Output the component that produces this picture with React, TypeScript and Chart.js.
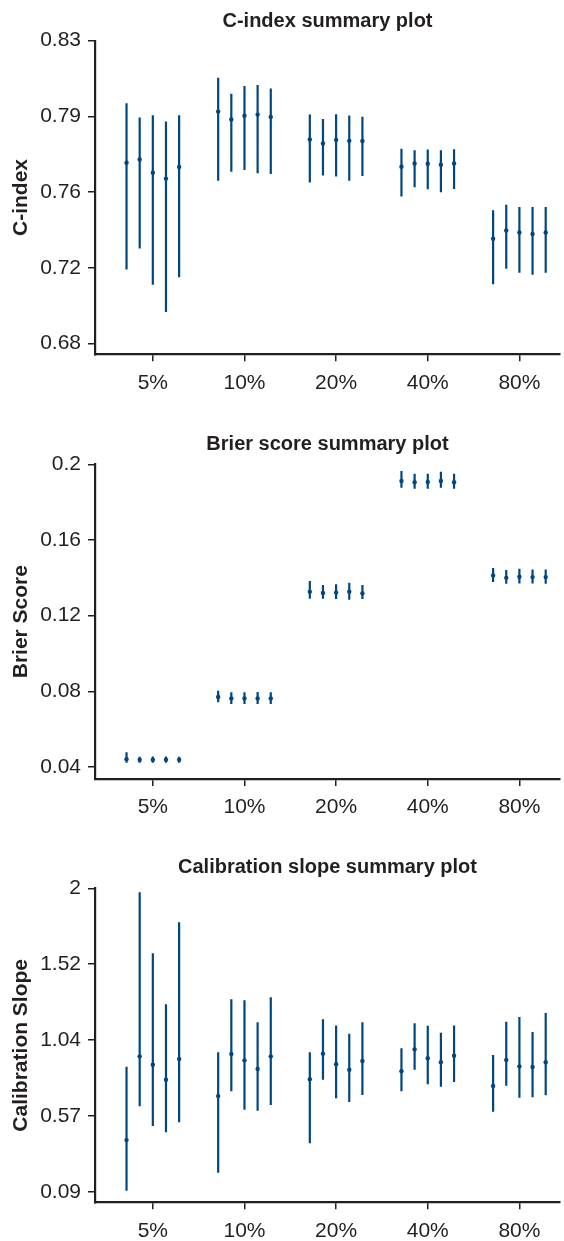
import React, { useEffect, useRef } from 'react';
import { Chart, registerables } from 'chart.js';

Chart.register(...registerables);

// ---------- categories & layout constants ----------
const categories = ['5%', '10%', '20%', '40%', '80%'];
const subOffsets = [-0.287, -0.1435, 0, 0.1435, 0.287];
const X_MIN = 0.369;
const X_MAX = 5.443;

// ---------- C-index (5 groups x 5 models) ----------
const cIndexEst = [
  0.7696, 0.7712, 0.7646, 0.7617, 0.7675,
  0.7949, 0.791, 0.7928, 0.7934, 0.7922,
  0.7811, 0.7791, 0.7809, 0.7804, 0.7803,
  0.7676, 0.7692, 0.7691, 0.7686, 0.7692,
  0.7319, 0.736, 0.735, 0.7343, 0.735,
];
const cIndexLow = [
  0.7167, 0.7271, 0.7092, 0.6956, 0.7128,
  0.7607, 0.7651, 0.766, 0.7643, 0.764,
  0.7598, 0.7633, 0.7627, 0.7607, 0.763,
  0.7529, 0.7574, 0.7564, 0.7549, 0.7566,
  0.7094, 0.7171, 0.7151, 0.7141, 0.7151,
];
const cIndexHigh = [
  0.799, 0.792, 0.7931, 0.79, 0.7931,
  0.8116, 0.8037, 0.8076, 0.808, 0.8063,
  0.7934, 0.7912, 0.7936, 0.7929, 0.7923,
  0.7765, 0.7758, 0.7761, 0.7758, 0.7763,
  0.746, 0.7488, 0.7477, 0.7477, 0.7477,
];
const cTickValues = [0.68, 0.7175, 0.755, 0.7925, 0.83];
const cTickLabels = ['0.68', '0.72', '0.76', '0.79', '0.83'];

// ---------- Brier score ----------
const brierEst = [
  0.0442, 0.0439, 0.0439, 0.0439, 0.0439,
  0.077, 0.0763, 0.0763, 0.0763, 0.0763,
  0.1327, 0.132, 0.1322, 0.1327, 0.1318,
  0.1912, 0.1905, 0.1907, 0.1912, 0.1905,
  0.1413, 0.14, 0.1406, 0.1404, 0.1404,
];
const brierLow = [
  0.0423, 0.0423, 0.0423, 0.0423, 0.0423,
  0.0742, 0.0733, 0.0733, 0.0733, 0.0733,
  0.129, 0.129, 0.1288, 0.1284, 0.1288,
  0.1876, 0.1871, 0.1871, 0.1876, 0.1871,
  0.1378, 0.1369, 0.137, 0.137, 0.1369,
];
const brierHigh = [
  0.0478, 0.0454, 0.0456, 0.0456, 0.0454,
  0.0803, 0.0795, 0.0795, 0.0797, 0.0795,
  0.1383, 0.1362, 0.1366, 0.1374, 0.1362,
  0.1964, 0.195, 0.195, 0.1961, 0.195,
  0.1452, 0.1441, 0.1448, 0.1444, 0.1444,
];
const brierTickValues = [0.04, 0.08, 0.12, 0.16, 0.2];
const brierTickLabels = ['0.04', '0.08', '0.12', '0.16', '0.2'];

// ---------- Calibration slope ----------
const calEst = [
  0.415, 0.942, 0.889, 0.795, 0.925,
  0.692, 0.957, 0.917, 0.862, 0.942,
  0.798, 0.959, 0.892, 0.858, 0.913,
  0.848, 0.986, 0.93, 0.905, 0.946,
  0.755, 0.919, 0.879, 0.875, 0.905,
];
const calLow = [
  0.096, 0.628, 0.504, 0.464, 0.527,
  0.21, 0.722, 0.606, 0.6, 0.636,
  0.395, 0.795, 0.678, 0.655, 0.699,
  0.722, 0.858, 0.766, 0.751, 0.781,
  0.594, 0.757, 0.682, 0.684, 0.697,
];
const calHigh = [
  0.877, 1.975, 1.591, 1.27, 1.786,
  0.968, 1.301, 1.295, 1.156, 1.314,
  0.968, 1.175, 1.137, 1.085, 1.156,
  0.993, 1.15, 1.135, 1.091, 1.137,
  0.951, 1.16, 1.19, 1.095, 1.215,
];
const calTickValues = [0.09, 0.5675, 1.045, 1.5225, 2.0];
const calTickLabels = ['0.09', '0.57', '1.04', '1.52', '2'];

// ---------- styles ----------
const INK = '#231f20';
const BLUE = '#00467f';
const FONT = "'Liberation Sans', Arial, Helvetica, sans-serif";

type PanelSpec = {
  title: string;
  yLabel: string;
  est: number[];
  lo: number[];
  hi: number[];
  tickValues: number[];
  tickLabels: string[];
  yMin: number;
  yMax: number;
  top: number;
  height: number;
  titlePadTop: number;
  titlePadBottom: number;
  xAxisHeight: number;
};

const panels: PanelSpec[] = [
  {
    title: 'C-index summary plot', yLabel: 'C-index',
    est: cIndexEst, lo: cIndexLow, hi: cIndexHigh,
    tickValues: cTickValues, tickLabels: cTickLabels,
    yMin: 0.6747, yMax: 0.83,
    top: 0, height: 410, titlePadTop: 9, titlePadBottom: 7.7, xAxisHeight: 410 - 354.3,
  },
  {
    title: 'Brier score summary plot', yLabel: 'Brier Score',
    est: brierEst, lo: brierLow, hi: brierHigh,
    tickValues: brierTickValues, tickLabels: brierTickLabels,
    yMin: 0.0337, yMax: 0.2,
    top: 420, height: 420, titlePadTop: 12, titlePadBottom: 8.3, xAxisHeight: 840 - 779,
  },
  {
    title: 'Calibration slope summary plot', yLabel: 'Calibration Slope',
    est: calEst, lo: calLow, hi: calHigh,
    tickValues: calTickValues, tickLabels: calTickLabels,
    yMin: 0.0233, yMax: 2.0,
    top: 840, height: 401, titlePadTop: 15.5, titlePadBottom: 8.8, xAxisHeight: 1241 - 1202.3,
  },
];

function Panel({ spec }: { spec: PanelSpec }) {
  const ref = useRef<HTMLCanvasElement>(null);
  useEffect(() => {
    if (!ref.current) return;
    const whisker: { x: number; y: number | null }[] = [];
    const points: { x: number; y: number }[] = [];
    spec.est.forEach((e, i) => {
      const g = Math.floor(i / 5);
      const s = i % 5;
      const x = g + 1 + subOffsets[s];
      whisker.push({ x, y: spec.lo[i] }, { x, y: spec.hi[i] }, { x, y: null });
      points.push({ x, y: e });
    });
    const chart = new Chart(ref.current, {
      type: 'line',
      data: {
        datasets: [
          {
            data: whisker as any,
            borderColor: BLUE,
            borderWidth: 2.2,
            pointRadius: 0,
            spanGaps: false,
            fill: false,
            tension: 0,
            borderCapStyle: 'butt',
          },
          {
            data: points as any,
            showLine: false,
            pointRadius: 2.2,
            pointBackgroundColor: BLUE,
            pointBorderColor: BLUE,
            pointBorderWidth: 0,
          },
        ],
      },
      options: {
        animation: false,
        responsive: false,
        events: [],
        layout: { padding: 0 },
        plugins: {
          legend: { display: false },
          tooltip: { enabled: false },
          title: {
            display: true,
            text: spec.title,
            fullSize: false,
            color: INK,
            font: { family: FONT, size: 20, weight: 'bold' },
            padding: { top: spec.titlePadTop, bottom: spec.titlePadBottom },
          },
        },
        scales: {
          x: {
            type: 'linear',
            min: X_MIN,
            max: X_MAX,
            bounds: 'data',
            afterBuildTicks: (s: any) => {
              s.ticks = categories.map((_, i) => ({ value: i + 1 }));
            },
            afterFit: (s: any) => {
              s.height = spec.xAxisHeight;
            },
            ticks: {
              callback: (v: any) => categories[Math.round(Number(v)) - 1] ?? '',
              color: INK,
              font: { family: FONT, size: 21 },
              padding: 9,
              maxRotation: 0,
              autoSkip: false,
            },
            grid: { drawOnChartArea: false, drawTicks: true, tickLength: 7, color: INK, lineWidth: 1.5 },
            border: { display: true, color: INK, width: 2.2 },
          },
          y: {
            type: 'linear',
            min: spec.yMin,
            max: spec.yMax,
            bounds: 'data',
            afterBuildTicks: (s: any) => {
              s.ticks = spec.tickValues.map((v) => ({ value: v }));
            },
            afterFit: (s: any) => {
              s.width = 95;
            },
            ticks: {
              callback: (_v: any, i: number) => spec.tickLabels[i],
              color: INK,
              font: { family: FONT, size: 21 },
              padding: 7,
              autoSkip: false,
            },
            title: {
              display: true,
              text: spec.yLabel,
              color: INK,
              font: { family: FONT, size: 21, weight: 'bold' },
              padding: { top: 8.4, bottom: 0 },
            },
            grid: { drawOnChartArea: false, drawTicks: true, tickLength: 7, color: INK, lineWidth: 1.5 },
            border: { display: true, color: INK, width: 2.2 },
          },
        },
      } as any,
    });
    return () => chart.destroy();
  }, [spec]);
  return (
    <canvas
      ref={ref}
      width={564}
      height={spec.height}
      style={{ position: 'absolute', left: 0, top: spec.top, width: 564, height: spec.height }}
    />
  );
}

export default function App() {
  return (
    <div style={{ position: 'absolute', left: 0, top: 0, width: 564, height: 1241, background: '#fff' }}>
      {panels.map((p) => (
        <Panel key={p.title} spec={p} />
      ))}
    </div>
  );
}
